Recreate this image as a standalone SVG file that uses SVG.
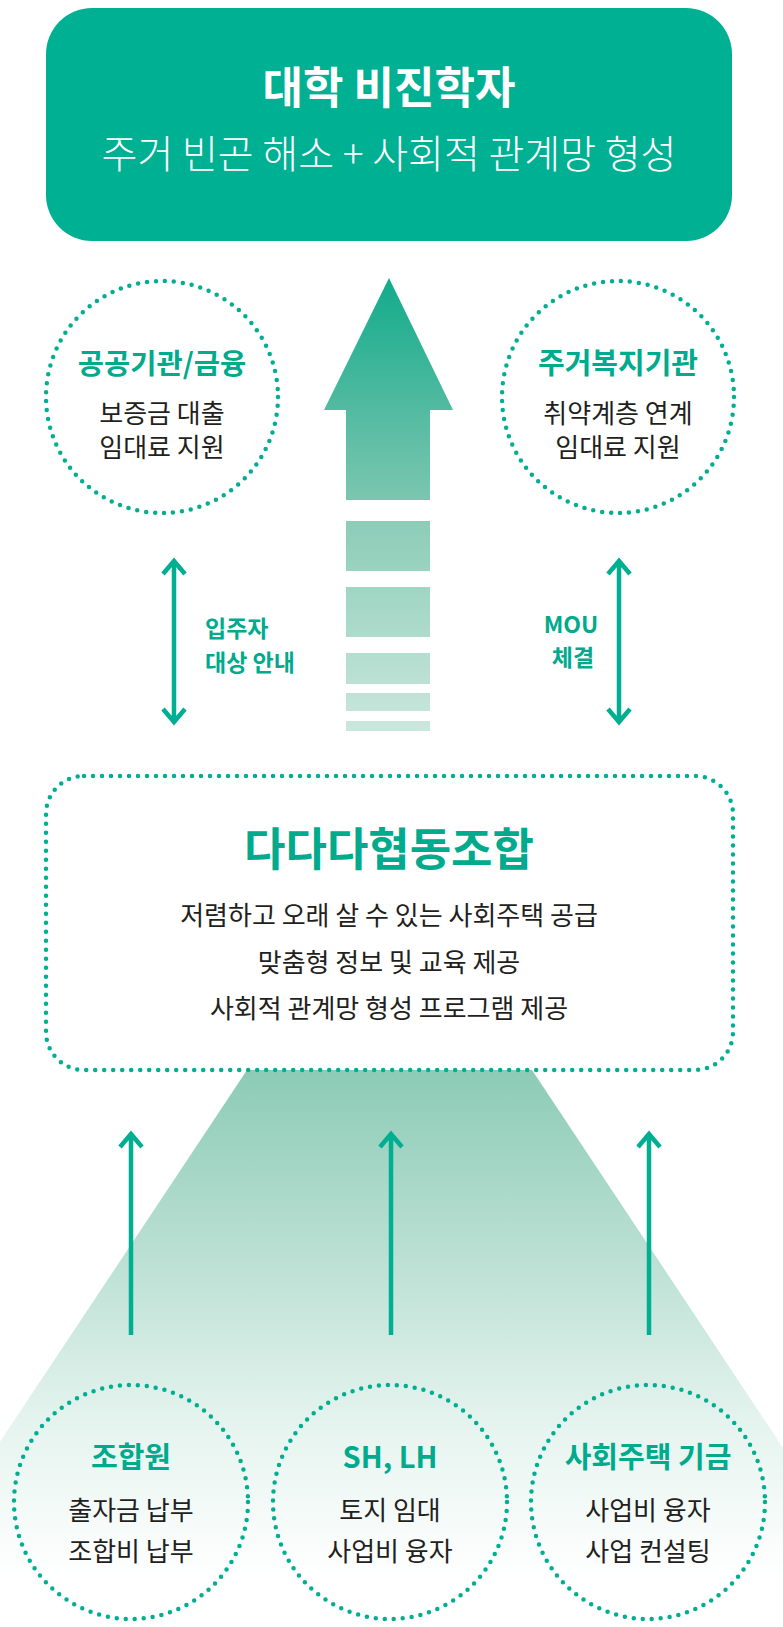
<svg xmlns="http://www.w3.org/2000/svg" width="783" height="1627" viewBox="0 0 783 1627">
<defs>
<linearGradient id="gArrow" gradientUnits="userSpaceOnUse" x1="0" y1="278" x2="0" y2="732">
<stop offset="0" stop-color="#12AB8B"/>
<stop offset="0.29" stop-color="#52BBA1"/>
<stop offset="0.49" stop-color="#7CC6AF"/>
<stop offset="0.54" stop-color="#8CCDB8"/>
<stop offset="1" stop-color="#CBE7DD"/>
</linearGradient>
<linearGradient id="gTrap" gradientUnits="userSpaceOnUse" x1="0" y1="1070" x2="0" y2="1580">
<stop offset="0" stop-color="#8CCBB6"/>
<stop offset="0.4" stop-color="#BFE2D6"/>
<stop offset="0.7" stop-color="#E6F4EF"/>
<stop offset="1" stop-color="#FFFFFF"/>
</linearGradient>
<style>
text{font-family:"Noto Sans CJK KR","Noto Sans",sans-serif;text-anchor:middle}
.ttl{font-weight:700;fill:#00AA8D}
.body{fill:#231F20;font-size:26px}
.dot{fill:none;stroke:#00AE92;stroke-width:4.5;stroke-linecap:round;stroke-dasharray:0 9}
.conn{fill:none;stroke:#00AE92;stroke-width:4.5;stroke-linecap:butt;stroke-linejoin:miter}
.lbl{font-weight:700;fill:#00AA8D;font-size:23px}
</style>
</defs>
<rect width="783" height="1627" fill="#FFFFFF"/>

<polygon id="funnel" points="247,1070 532,1070 902,1627 -123,1627" fill="url(#gTrap)"/>

<g id="big-arrow" fill="url(#gArrow)">
<polygon points="389,278 453,410 430,410 430,500 346,500 346,410 324,410"/>
<rect x="346" y="521" width="84" height="50"/>
<rect x="346" y="587" width="84" height="50"/>
<rect x="346" y="653" width="84" height="31"/>
<rect x="346" y="693" width="84" height="18"/>
<rect x="346" y="721" width="84" height="10"/>
</g>

<g id="goal">
<rect x="46" y="8" width="686" height="233" rx="46" ry="46" fill="#00B093"/>
<text x="389" y="104" font-size="44" font-weight="700" fill="#FFFFFF">대학 비진학자</text>
<text x="389" y="168" font-size="39" font-weight="300" fill="#FFFFFF">주거 빈곤 해소 + 사회적 관계망 형성</text>
</g>

<g id="public-finance">
<circle class="dot" cx="162" cy="397" r="116"/>
<text class="ttl" x="162" y="374" font-size="28.5">공공기관/금융</text>
<text class="body" x="162" y="423">보증금 대출</text>
<text class="body" x="162" y="457">임대료 지원</text>
</g>

<g id="welfare">
<circle class="dot" cx="618" cy="397" r="116"/>
<text class="ttl" x="618" y="374" font-size="29">주거복지기관</text>
<text class="body" x="618" y="423">취약계층 연계</text>
<text class="body" x="618" y="457">임대료 지원</text>
</g>

<g id="coop">
<rect class="dot" x="46" y="776" width="687" height="294" rx="38" ry="38"/>
<text class="ttl" x="389" y="866" font-size="45">다다다협동조합</text>
<text class="body" x="389" y="925">저렴하고 오래 살 수 있는 사회주택 공급</text>
<text class="body" x="389" y="972">맞춤형 정보 및 교육 제공</text>
<text class="body" x="389" y="1018">사회적 관계망 형성 프로그램 제공</text>
</g>

<g id="member">
<circle class="dot" cx="131" cy="1502" r="117"/>
<text class="ttl" x="131" y="1468" font-size="29">조합원</text>
<text class="body" x="131" y="1520">출자금 납부</text>
<text class="body" x="131" y="1561">조합비 납부</text>
</g>

<g id="shlh">
<circle class="dot" cx="390" cy="1502" r="117"/>
<text class="ttl" x="390" y="1468" font-size="29">SH, LH</text>
<text class="body" x="390" y="1520">토지 임대</text>
<text class="body" x="390" y="1561">사업비 융자</text>
</g>

<g id="fund">
<circle class="dot" cx="648" cy="1502" r="117"/>
<text class="ttl" x="648" y="1468" font-size="29">사회주택 기금</text>
<text class="body" x="648" y="1520">사업비 융자</text>
<text class="body" x="648" y="1561">사업 컨설팅</text>
</g>

<g id="connectors">
<path class="conn" d="M174,561 V722 M163,574 L174,561 L185,574 M163,709 L174,722 L185,709"/>
<text class="lbl" x="205" y="636.5" style="text-anchor:start">입주자</text>
<text class="lbl" x="205" y="670.5" style="text-anchor:start">대상 안내</text>
<path class="conn" d="M619,561 V722 M608,574 L619,561 L630,574 M608,709 L619,722 L630,709"/>
<text class="lbl" x="571" y="633" font-size="24">MOU</text>
<text class="lbl" x="573" y="665.5">체결</text>
<path class="conn" d="M131,1335 V1134 M120,1147 L131,1134 L142,1147"/>
<path class="conn" d="M391,1335 V1134 M380,1147 L391,1134 L402,1147"/>
<path class="conn" d="M649,1335 V1134 M638,1147 L649,1134 L660,1147"/>
</g>
</svg>
